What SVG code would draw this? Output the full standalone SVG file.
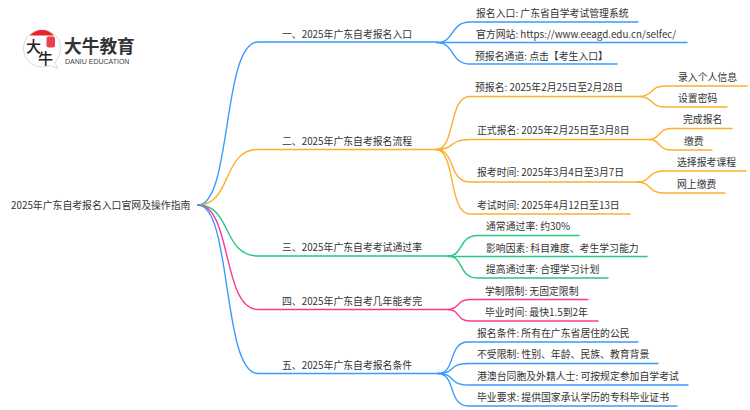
<svg xmlns="http://www.w3.org/2000/svg" width="750" height="410" viewBox="0 0 750 410">
<style>
text{font-family:"Noto Sans CJK SC","Liberation Sans",sans-serif;font-size:9.85px;fill:#333}
.c{fill:none;stroke-width:1.4;stroke-linecap:round}
.b{stroke:#3a9bff}.o{stroke:#fbb02d}.g{stroke:#25c884}.p{stroke:#fb3a8c}
</style>
<rect width="750" height="410" fill="#fff"/>
<g id="logo">
<path d="M42 30C31 30 23.500 38 23.500 48.500C23.500 59 32 67 42 67C46 67 49 66.500 51 65.500L57.500 68.500L54.500 62C58.500 58.500 60.500 54 60.500 48.500C60.500 38 53 30 42 30Z" fill="#fff" stroke="#c8c8c8" stroke-width="0.7"/>
<path d="M29.500 35.500C33 32 37 30 42 30C47 30 51 32 54 35.500Z" fill="#e8242b"/>
<rect x="46.500" y="36.500" width="8.500" height="11" rx="2" fill="#e8424a"/>
<text x="26" y="52" style="font-size:15px;font-weight:500;fill:#222">大</text>
<text x="38" y="64" style="font-size:15px;font-weight:500;fill:#222">牛</text>
<text x="64" y="53" style="font-size:17.700px;font-weight:700;fill:#333">大牛教育</text>
<text x="65" y="64" style="font-family:'Liberation Sans',sans-serif;font-size:7px;fill:#444">DANIU EDUCATION</text>
</g>
<g id="connectors">
<path class="c b" d="M198 205C232 205 222 42 258 42H437"/>
<path class="c o" d="M198 205C232 205 222 149.500 258 149.500H436"/>
<path class="c g" d="M198 205C232 205 222 256 258 256H448"/>
<path class="c p" d="M198 205C232 205 222 309.500 258 309.500H448"/>
<path class="c b" d="M198 205C232 205 222 373.500 258 373.500H438"/>
<path class="c b" d="M437 42.500C455 42.500 450 22 470 22H638"/>
<path class="c b" d="M437 42.500H687"/>
<path class="c b" d="M437 42.500C455 42.500 450 64 470 64H617"/>
<path class="c o" d="M436 149.500C456 149.500 448 96.500 470 96.500H640"/>
<path class="c o" d="M436 149.500C456 149.500 448 139.500 470 139.500H650"/>
<path class="c o" d="M436 149.500C456 149.500 448 182 470 182H638"/>
<path class="c o" d="M436 149.500C456 149.500 448 214 470 214H630"/>
<path class="c o" d="M640 96.500C653 96.500 650 86 665 86H747"/>
<path class="c o" d="M640 96.500C653 96.500 650 107 665 107H727"/>
<path class="c o" d="M650 139.500C660 139.500 658 128.500 671 128.500H732"/>
<path class="c o" d="M650 139.500C660 139.500 658 150 671 150H712"/>
<path class="c o" d="M638 182C651 182 648 171 663 171H746"/>
<path class="c o" d="M638 182C651 182 648 193 663 193H725"/>
<path class="c g" d="M448 256C464 256 458 235.500 478 235.500H579"/>
<path class="c g" d="M448 256.500H647"/>
<path class="c g" d="M448 256C464 256 458 278 478 278H608"/>
<path class="c p" d="M448 309.500C460 309.500 456 299.500 470 299.500H588"/>
<path class="c p" d="M448 309.500C460 309.500 456 321 470 321H598"/>
<path class="c b" d="M438 373.500C456 373.500 448 342 468 342H638"/>
<path class="c b" d="M438 373.500C456 373.500 448 363.500 468 363.500H658"/>
<path class="c b" d="M438 373.500C456 373.500 448 385 468 385H688"/>
<path class="c b" d="M438 373.500C456 373.500 448 406 468 406H677"/>
</g>
<g id="root"><text x="11" y="209">2025年广东自考报名入口官网及操作指南</text></g>
<g id="n1"><text x="282" y="38">一、2025年广东自考报名入口</text></g>
<g id="n1-1"><text x="476" y="17">报名入口: 广东省自学考试管理系统</text></g>
<g id="n1-2"><text x="476" y="38">官方网站: https://www.eeagd.edu.cn/selfec/</text></g>
<g id="n1-3"><text x="475" y="60">预报名通道: 点击【考生入口】</text></g>
<g id="n2"><text x="282" y="145">二、2025年广东自考报名流程</text></g>
<g id="n2-1"><text x="475" y="91">预报名: 2025年2月25日至2月28日</text></g>
<g id="n2-1-1"><text x="678" y="81">录入个人信息</text></g>
<g id="n2-1-2"><text x="678" y="102">设置密码</text></g>
<g id="n2-2"><text x="477" y="134">正式报名: 2025年2月25日至3月8日</text></g>
<g id="n2-2-1"><text x="683" y="123">完成报名</text></g>
<g id="n2-2-2"><text x="684" y="145">缴费</text></g>
<g id="n2-3"><text x="477" y="176">报考时间: 2025年3月4日至3月7日</text></g>
<g id="n2-3-1"><text x="677" y="166">选择报考课程</text></g>
<g id="n2-3-2"><text x="677" y="188">网上缴费</text></g>
<g id="n2-4"><text x="477" y="209">考试时间: 2025年4月12日至13日</text></g>
<g id="n3"><text x="282" y="251">三、2025年广东自考考试通过率</text></g>
<g id="n3-1"><text x="486" y="230">通常通过率: 约30%</text></g>
<g id="n3-2"><text x="486" y="252">影响因素: 科目难度、考生学习能力</text></g>
<g id="n3-3"><text x="486" y="273">提高通过率: 合理学习计划</text></g>
<g id="n4"><text x="282" y="305">四、2025年广东自考几年能考完</text></g>
<g id="n4-1"><text x="485" y="295">学制限制: 无固定限制</text></g>
<g id="n4-2"><text x="485" y="316">毕业时间: 最快1.5到2年</text></g>
<g id="n5"><text x="282" y="369">五、2025年广东自考报名条件</text></g>
<g id="n5-1"><text x="477" y="337">报名条件: 所有在广东省居住的公民</text></g>
<g id="n5-2"><text x="477" y="358">不受限制: 性别、年龄、民族、教育背景</text></g>
<g id="n5-3"><text x="477" y="380">港澳台同胞及外籍人士: 可按规定参加自学考试</text></g>
<g id="n5-4"><text x="477" y="401">毕业要求: 提供国家承认学历的专科毕业证书</text></g>
</svg>
